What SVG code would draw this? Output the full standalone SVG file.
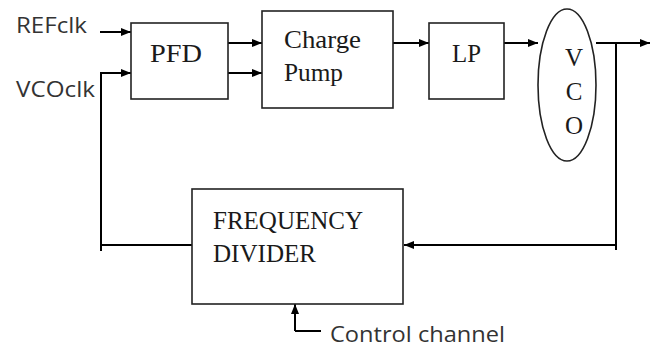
<svg xmlns="http://www.w3.org/2000/svg" width="651" height="347" viewBox="0 0 651 347">
<defs>
<marker id="ah" viewBox="0 0 10 8" markerWidth="10" markerHeight="8" refX="10" refY="4" orient="auto" markerUnits="userSpaceOnUse">
<path d="M0,0 L10,4 L0,8 z" fill="#000"/>
</marker>
<style>
.box{fill:#fff;stroke:#222;stroke-width:1.6}
.lbl{font-family:"Liberation Serif","Times New Roman",serif;font-size:25px;fill:#1a1a1a}
.sans{font-family:"Open Sans","DejaVu Sans",sans-serif;font-size:22px;fill:#333}
.con{fill:none;stroke:#000;stroke-width:2}
.arr{marker-end:url(#ah)}
</style>
</defs>
<rect width="651" height="347" fill="#fff"/>
<g id="connectors">
<path class="con arr" d="M100,32 L131,32"/>
<path class="con arr" d="M101,251 L101,73 L131,73"/>
<path class="con" d="M101,245 L192,245" stroke-width="1.6"/>
<path class="con arr" d="M228,43 L262,43"/>
<path class="con arr" d="M228,73 L262,73"/>
<path class="con arr" d="M393,43 L429,43"/>
<path class="con arr" d="M504,43 L538,43"/>
<path class="con arr" d="M596,43 L650,43"/>
<path class="con" d="M616,43 L616,250" stroke-width="1.6"/>
<path class="con arr" d="M616,245 L404,245"/>
<path class="con arr" d="M295,331 L295,304"/>
<path class="con" d="M295,331 L321,331" stroke-width="1.6"/>
</g>
<g id="refclk"><text class="sans" x="16" y="33" textLength="71" lengthAdjust="spacingAndGlyphs">REFclk</text></g>
<g id="vcoclk"><text class="sans" x="16" y="97" textLength="79" lengthAdjust="spacingAndGlyphs">VCOclk</text></g>
<g id="pfd">
<rect class="box" x="131" y="23" width="97" height="76"/>
<text class="lbl" x="150" y="62" textLength="52" lengthAdjust="spacingAndGlyphs">PFD</text>
</g>
<g id="charge-pump">
<rect class="box" x="262" y="11" width="131" height="97"/>
<text class="lbl" x="284" y="48" textLength="77" lengthAdjust="spacingAndGlyphs">Charge</text>
<text class="lbl" x="284" y="81" textLength="59" lengthAdjust="spacingAndGlyphs">Pump</text>
</g>
<g id="lp">
<rect class="box" x="429" y="23" width="75" height="76"/>
<text class="lbl" x="452" y="62" textLength="29" lengthAdjust="spacingAndGlyphs">LP</text>
</g>
<g id="vco">
<ellipse class="box" cx="567" cy="85" rx="29" ry="76"/>
<text class="lbl" x="574" y="66" text-anchor="middle">V</text>
<text class="lbl" x="574" y="100" text-anchor="middle">C</text>
<text class="lbl" x="574" y="134" text-anchor="middle">O</text>
</g>
<g id="frequency-divider">
<rect class="box" x="192" y="189" width="211" height="115"/>
<text class="lbl" x="213" y="229" textLength="150" lengthAdjust="spacingAndGlyphs">FREQUENCY</text>
<text class="lbl" x="213" y="262" textLength="103" lengthAdjust="spacingAndGlyphs">DIVIDER</text>
</g>
<g id="control-channel"><text class="sans" x="330" y="342" textLength="175" lengthAdjust="spacingAndGlyphs">Control channel</text></g>
</svg>
